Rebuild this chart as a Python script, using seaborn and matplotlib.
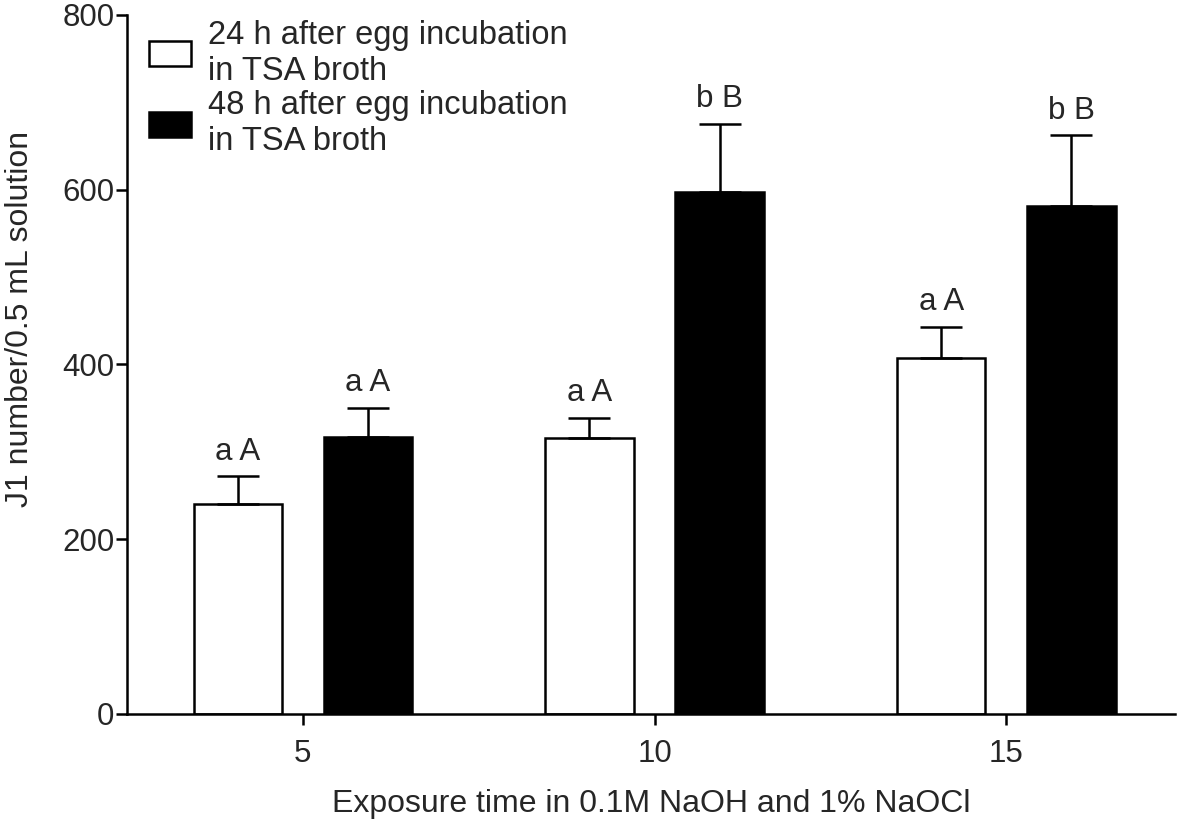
import pandas as pd
import numpy as np
import matplotlib
matplotlib.use('Agg')
import matplotlib.pyplot as plt
import seaborn as sns
from matplotlib.patches import Patch

# data
times = ['5', '10', '15']
groups = ['24 h after egg incubation\nin TSA broth', '48 h after egg incubation\nin TSA broth']
mean_24 = [240, 316, 407]
mean_48 = [317, 597, 581]
sem_24 = [32, 23, 36]
sem_48 = [33, 78, 81]
letters_24 = ['a A', 'a A', 'a A']
letters_48 = ['a A', 'b B', 'b B']

df = pd.DataFrame({
    'time': times * 2,
    'value': mean_24 + mean_48,
    'group': [groups[0]] * 3 + [groups[1]] * 3,
})

sns.set_style('ticks')
plt.rcParams['font.family'] = ['Liberation Sans', 'DejaVu Sans']

fig = plt.figure(figsize=(11.81, 8.23), dpi=100)
ax = fig.add_axes([0.1075, 0.1325, 0.8875, 0.8495])

sns.barplot(data=df, x='time', y='value', hue='group', order=times, hue_order=groups,
            palette={groups[0]: 'white', groups[1]: 'black'}, edgecolor='black',
            linewidth=1.8, width=0.74, gap=0.32, errorbar=None, ax=ax, legend=False)

# one-sided error bars + letters
for cont, sems, letters in zip(ax.containers, [sem_24, sem_48], [letters_24, letters_48]):
    for bar, s, lab in zip(cont, sems, letters):
        xc = bar.get_x() + bar.get_width() / 2
        h = bar.get_height()
        ax.errorbar(xc, h, yerr=[[0], [s]], color='black', elinewidth=1.8,
                    capsize=15, capthick=1.8, zorder=1)
        ax.text(xc, h + s + 19, lab, ha='center', va='baseline', fontsize=22.5)

ax.set_xlim(-0.5, 2.48)
ax.set_ylim(0, 800)
ax.set_yticks([0, 200, 400, 600, 800])
ax.set_xlabel('Exposure time in 0.1M NaOH and 1% NaOCl', fontsize=23)
ax.set_ylabel('J1 number/0.5 mL solution', fontsize=23)
ax.xaxis.set_label_coords(0.5, -0.108)
ax.yaxis.set_label_coords(-0.088, 0.565)
ax.tick_params(labelsize=22.5, width=1.8, length=8, color='black')
ax.tick_params(axis='y', pad=1)
ax.tick_params(axis='x', pad=10)
sns.despine(ax=ax)
for sp in ['left', 'bottom']:
    ax.spines[sp].set_linewidth(1.8)
    ax.spines[sp].set_color('black')

handles = [Patch(facecolor='white', edgecolor='black', linewidth=1.8),
           Patch(facecolor='black', edgecolor='black', linewidth=1.8)]
ax.legend(handles, groups, loc='upper left', bbox_to_anchor=(-0.007, 1.035), frameon=False,
          fontsize=23.5, handlelength=1.3, handleheight=0.8, handletextpad=0.5,
          labelspacing=0.12)

fig.savefig('out.png', dpi=100)
